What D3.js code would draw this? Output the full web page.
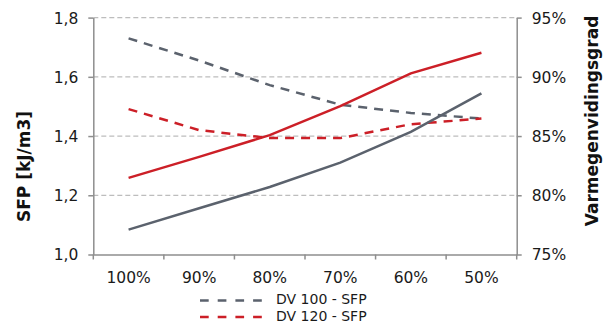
<!DOCTYPE html>
<html><head><meta charset="utf-8">
<script src="https://cdn.jsdelivr.net/npm/d3@7"></script>
<style>
html,body{margin:0;padding:0;background:#fff;}
svg{display:block;font-family:"DejaVu Sans",Verdana,sans-serif;}
</style></head>
<body>
<script>
const categories = ["100%","90%","80%","70%","60%","50%"];
const dv100SFP = [1.73, 1.655, 1.572, 1.506, 1.478, 1.459];
const dv120SFP = [1.491, 1.42, 1.393, 1.393, 1.44, 1.459];
const dv100Varme = [0.771, 0.789, 0.807, 0.8275, 0.8536, 0.886];
const dv120Varme = [0.8147, 0.8324, 0.8508, 0.8752, 0.9029, 0.9203];
const leftTicks = [1.0, 1.2, 1.4, 1.6, 1.8];
const rightTicks = [0.75, 0.80, 0.85, 0.90, 0.95];
const legendItems = [
  {name:"DV 100 - SFP", color:"#5b626d"},
  {name:"DV 120 - SFP", color:"#cc1f27"}
];

const W = 604, H = 325;
const m = {l:93.3, r:W-516.7, t:17.6, b:H-254.5};
const svg = d3.select("body").append("svg").attr("width",W).attr("height",H);

const x = d3.scaleBand().domain(categories).range([m.l, W-m.r]);
const yL = d3.scaleLinear().domain([1.0,1.8]).range([H-m.b, m.t]);
const yR = d3.scaleLinear().domain([0.75,0.95]).range([H-m.b, m.t]);

const axisColor = "#8e8e8e";
const gridColor = "#bdbdbd";
const fs = 15.5;

// gridlines
svg.append("g").selectAll("line").data(leftTicks.slice(1)).join("line")
  .attr("x1", m.l).attr("x2", W-m.r)
  .attr("y1", d=>yL(d)).attr("y2", d=>yL(d))
  .attr("stroke", gridColor).attr("stroke-width",1.3).attr("stroke-dasharray","5,3");

// left axis
const gL = svg.append("g").attr("transform",`translate(${m.l},0)`)
  .call(d3.axisLeft(yL).tickValues(leftTicks).tickFormat(d=>d3.format(".1f")(d).replace(".",",")).tickSize(5).tickSizeOuter(0).tickPadding(10));
// right axis
const gR = svg.append("g").attr("transform",`translate(${W-m.r},0)`)
  .call(d3.axisRight(yR).tickValues(rightTicks).tickFormat(d3.format(".0%")).tickSize(5).tickSizeOuter(0).tickPadding(10));
// bottom axis
const gB = svg.append("g").attr("transform",`translate(0,${H-m.b})`)
  .call(d3.axisBottom(x).tickSize(0).tickSizeOuter(0).tickPadding(17));
// category boundary ticks
const bounds = categories.map(c=>x(c)).concat([W-m.r]);
gB.append("g").selectAll("line").data(bounds).join("line")
  .attr("x1",d=>d).attr("x2",d=>d).attr("y1",0).attr("y2",5)
  .attr("stroke",axisColor).attr("stroke-width",1.5);

[gL,gR,gB].forEach(g=>{
  g.selectAll(".domain").attr("stroke",axisColor).attr("stroke-width",1.5);
  g.selectAll(".tick line").attr("stroke",axisColor).attr("stroke-width",1.5);
  g.selectAll("text").attr("fill","#1a1a1a").attr("font-size",fs).attr("font-family","DejaVu Sans, Verdana, sans-serif");
});
gL.selectAll(".tick text").attr("dy","0.35em");
gR.selectAll(".tick text").attr("dy","0.35em");

// axis titles
svg.append("text").attr("transform",`translate(30,166.5) rotate(-90)`)
  .attr("text-anchor","middle").attr("font-weight","bold").attr("font-size",17).attr("fill","#111")
  .text("SFP [kJ/m3]");
svg.append("text").attr("transform",`translate(598,121) rotate(-90)`)
  .attr("text-anchor","middle").attr("font-weight","bold").attr("font-size",17).attr("fill","#111")
  .text("Varmegenvidingsgrad");

const cx = c => x(c) + x.bandwidth()/2;
const lineL = d3.line().x((d,i)=>cx(categories[i])).y(d=>yL(d));
const lineR = d3.line().x((d,i)=>cx(categories[i])).y(d=>yR(d));

const series = [
  {data:dv100SFP, gen:lineL, color:"#5b626d", dash:"9,7"},
  {data:dv120SFP, gen:lineL, color:"#cc1f27", dash:"9,7"},
  {data:dv100Varme, gen:lineR, color:"#5b626d", dash:null},
  {data:dv120Varme, gen:lineR, color:"#cc1f27", dash:null}
];
series.forEach(s=>{
  svg.append("path").attr("d", s.gen(s.data)).attr("fill","none")
    .attr("stroke", s.color).attr("stroke-width",2.5)
    .attr("stroke-dasharray", s.dash);
});

// legend
const lg = svg.append("g");
legendItems.forEach((it,i)=>{
  const yy = 299.5 + i*16.5;
  lg.append("line").attr("x1",200).attr("x2",263).attr("y1",yy+1).attr("y2",yy+1)
    .attr("stroke",it.color).attr("stroke-width",2.5).attr("stroke-dasharray","8.7,9");
  lg.append("text").attr("x",276).attr("y",yy).attr("dy","0.35em")
    .attr("font-size",14).attr("fill","#1a1a1a").text(it.name);
});
</script>
</body></html>
